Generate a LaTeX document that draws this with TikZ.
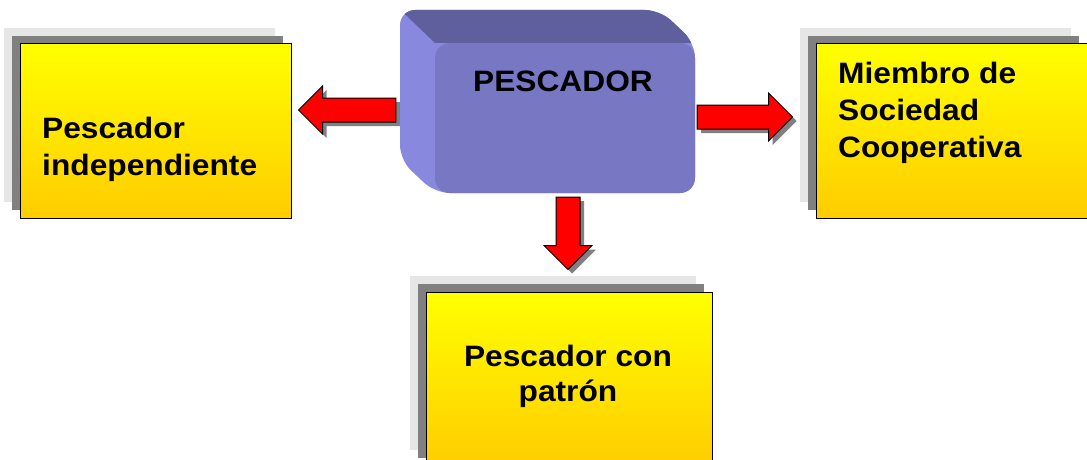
\documentclass[tikz,border=0pt]{standalone}
\usepackage{fontspec}
\setmainfont[FakeStretch=1.075]{Liberation Sans}
\usetikzlibrary{calc,shadows}

\definecolor{boxtop}{RGB}{255,255,0}
\definecolor{boxbottom}{RGB}{255,204,0}
\definecolor{frontface}{RGB}{119,119,196}
\definecolor{topface}{RGB}{95,95,158}
\definecolor{sideface}{RGB}{136,136,222}
\definecolor{shadowlight}{RGB}{230,230,230}
\definecolor{shadowdark}{RGB}{128,128,128}

\tikzset{
  yellowbox/.style={draw=black, line width=1pt, top color=boxtop, bottom color=boxbottom,
    minimum height=174pt, inner sep=0pt,
    general shadow={fill=shadowlight, shadow xshift=-16pt, shadow yshift=16pt},
    general shadow={fill=shadowdark, shadow xshift=-8pt, shadow yshift=8pt}},
  boxtext/.style={font=\bfseries\fontsize{29.5}{37}\selectfont, inner sep=0pt},
  redarrow/.style={draw=black, line width=1pt, fill=red, line join=miter,
    general shadow={fill=shadowdark, shadow xshift=4pt, shadow yshift=-4pt},
    to path={
      ($(\tikztostart)!12pt!90:(\tikztotarget)$)
      -- ($($(\tikztotarget)!24pt!(\tikztostart)$)!12pt!-90:(\tikztostart)$)
      -- ($($(\tikztotarget)!24pt!(\tikztostart)$)!24pt!-90:(\tikztostart)$)
      -- (\tikztotarget)
      -- ($($(\tikztotarget)!24pt!(\tikztostart)$)!24pt!90:(\tikztostart)$)
      -- ($($(\tikztotarget)!24pt!(\tikztostart)$)!12pt!90:(\tikztostart)$)
      -- ($(\tikztostart)!12pt!-90:(\tikztotarget)$)
      -- cycle}}
}

\begin{document}
\begin{tikzpicture}[x=1pt, y=1pt]
    \useasboundingbox (0,0) rectangle (1087,459);

    % Pescador box (3D)
    \fill[sideface, rounded corners=15pt] (400,449) -- (660,449) -- (695,416) -- (695,266) -- (435,266) -- (400,299) -- cycle;
    \begin{scope}
        \clip[rounded corners=15pt] (400,449) -- (660,449) -- (695,416) -- (695,266) -- (435,266) -- (400,299) -- cycle;
        \fill[topface] (390,459) -- (720,459) -- (720,416) -- (435,416) -- cycle;
    \end{scope}
    \node[fill=frontface, rounded corners=15pt, minimum width=260pt, minimum height=150pt, inner sep=0pt] (pescador) at (565,341) {};
    \node[boxtext, anchor=base] (txtPescador) at (563,367) {PESCADOR};

    % Yellow boxes
    \node[yellowbox, minimum width=271pt] (indep) at (155.5,328) {};
    \node[yellowbox, minimum width=271pt] (miembro) at (951.5,328) {};
    \node[yellowbox, minimum width=286pt] (patron) at (569,80) {};

    % base = last line
    \node[boxtext, anchor=base west, align=left] (txtIndep) at (42,284) {Pescador\\independiente};
    \node[boxtext, anchor=base west, align=left] (txtMiembro) at (838,302) {Miembro de\\Sociedad\\Cooperativa};
    \node[boxtext, anchor=base, align=center] (txtPatron) at (568,57.5) {Pescador con\\[-2pt]patrón};

    % Arrows
    \coordinate (startL) at ($(pescador.west)+(-39,8)$);
    \coordinate (tipL) at ($(indep.east)+(7,21)$);
    \coordinate (startR) at ($(pescador.east)+(2,1)$);
    \coordinate (tipR) at ($(miembro.west)+(-23,14)$);
    \coordinate (startD) at ($(pescador.south)+(3,-4)$);
    \coordinate (tipD) at ($(patron.north)+(-1,22)$);

    \draw[redarrow] (startL) to (tipL);
    \draw[redarrow] (startR) to (tipR);
    \draw[redarrow] (startD) to (tipD);
\end{tikzpicture}
\end{document}
